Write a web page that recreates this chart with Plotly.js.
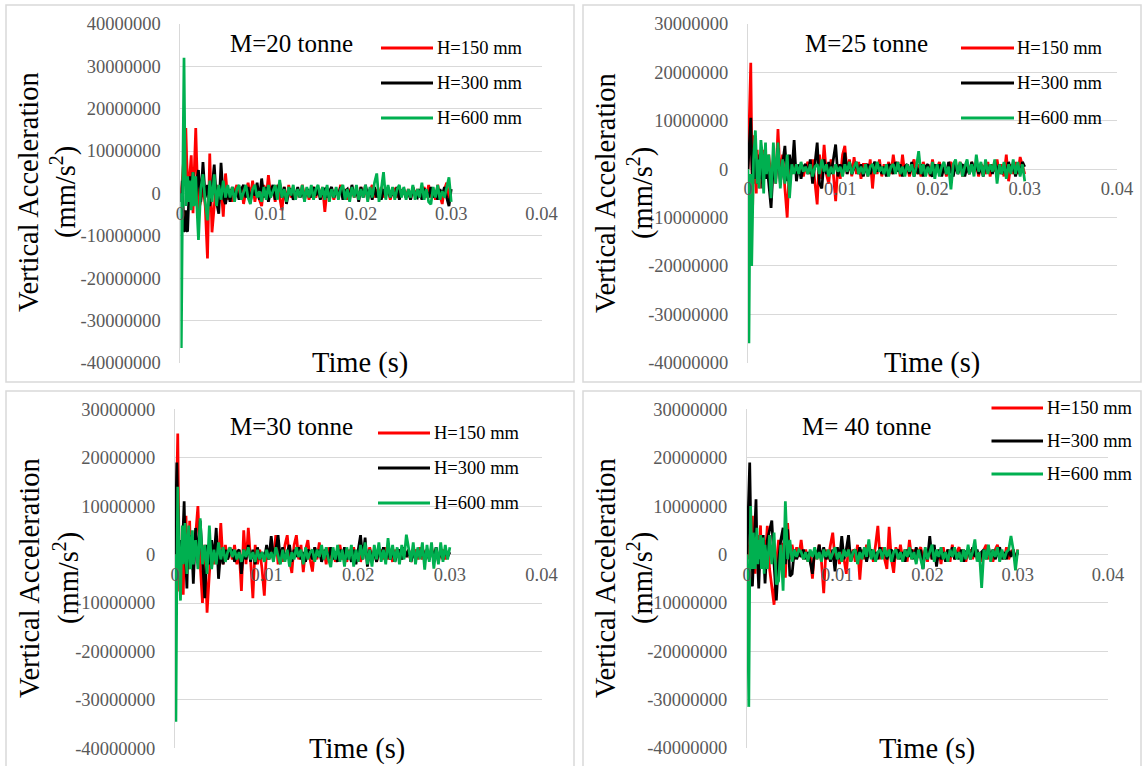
<!DOCTYPE html>
<html>
<head>
<meta charset="utf-8">
<script src="https://cdn.plot.ly/plotly-3.0.1.min.js"></script>
<style>
  html, body { margin: 0; padding: 0; background: #ffffff; }
  #chart { width: 1144px; height: 766px; }
</style>
</head>
<body>
<div id="chart"></div>
<script>
// Sample times (s): 0.1 ms steps over the impact, 0.25 ms steps afterwards
const time = [
  0,0.0001,0.0002,0.0003,0.0004,0.0005,0.0006,0.0007,0.0008,0.0009,0.001,0.0011,0.0012,0.0013,0.0014,0.0015,0.0016,0.0017,0.0018,0.0019,0.002,
  0.00225,0.0025,0.00275,0.003,0.00325,0.0035,0.00375,0.004,0.00425,0.0045,0.00475,0.005,0.00525,0.0055,0.00575,0.006,
  0.00625,0.0065,0.00675,0.007,0.00725,0.0075,0.00775,0.008,0.00825,0.0085,0.00875,0.009,0.00925,0.0095,0.00975,0.01,
  0.01025,0.0105,0.01075,0.011,0.01125,0.0115,0.01175,0.012,0.01225,0.0125,0.01275,0.013,0.01325,0.0135,0.01375,0.014,0.01425,0.0145,0.01475,0.015,
  0.01525,0.0155,0.01575,0.016,0.01625,0.0165,0.01675,0.017,0.01725,0.0175,0.01775,0.018,0.01825,0.0185,0.01875,0.019,0.01925,0.0195,0.01975,0.02,
  0.02025,0.0205,0.02075,0.021,0.02125,0.0215,0.02175,0.022,0.02225,0.0225,0.02275,0.023,0.02325,0.0235,0.02375,0.024,0.02425,0.0245,0.02475,0.025,
  0.02525,0.0255,0.02575,0.026,0.02625,0.0265,0.02675,0.027,0.02725,0.0275,0.02775,0.028,0.02825,0.0285,0.02875,0.029,0.02925,0.0295,0.02975,0.03
];

// Vertical acceleration (mm/s^2), M = 20 tonne
const acc20_h150 = [
  0,1e6,3e6,6e6,10e6,13e6,15.4e6,8e6,3e6,-2e6,3e6,6e6,9e6,2e6,-4.7e6,3e6,10e6,15.4e6,8e6,-1e6,-4e6,
  -2e6,2e6,-3e6,-15.4e6,9.4e6,-9.2e6,-3e6,2e6,-2.5e6,1.5e6,-5.5e6,4.7e6,-1.5e6,1e6,-2e6,0.5e6,
  2e6,-1e6,1.5e6,-2.5e6,0.5e6,2.5e6,-1e6,3e6,-2e6,1e6,-1.5e6,-3e6,2e6,-1e6,4.3e6,-0.5e6,
  1.5e6,-2e6,2e6,-1e6,-4e6,1.5e6,-2e6,2e6,-1e6,0.5e6,-1.5e6,1e6,-1e6,2e6,-0.5e6,1e6,-1.5e6,0.5e6,1.5e6,-1e6,
  1e6,-0.5e6,1.5e6,-4.4e6,1e6,-1e6,0.5e6,-1.5e6,1e6,-0.5e6,2e6,-1e6,1e6,-1.5e6,0.5e6,1.5e6,-1e6,0.5e6,-1e6,1.5e6,
  -0.5e6,1e6,-1.5e6,0.5e6,2e6,-1e6,1e6,-0.5e6,1.5e6,-1e6,0.5e6,1e6,-1.5e6,0.5e6,1e6,-1e6,1.5e6,-0.5e6,0.5e6,-1e6,
  1e6,-1.5e6,1.5e6,-0.5e6,1e6,-1e6,0.5e6,1.5e6,-1e6,2e6,-1e6,0.5e6,-1.5e6,2e6,-0.5e6,-2.5e6,1e6,2.5e6,-1.5e6,-1e6
];
const acc20_h300 = [
  0,-2e6,3e6,-6e6,-8.8e6,-9e6,-4e6,-8.8e6,-9e6,-3e6,2e6,4e6,-1e6,3e6,5e6,-1e6,2e6,-2e6,3e6,4e6,5.5e6,
  -2e6,7.4e6,-1e6,2e6,-3e6,1e6,6.8e6,-2e6,-4.8e6,7.2e6,-1e6,-2.5e6,1e6,-2e6,1.5e6,-1e6,
  0.5e6,-1.5e6,1e6,2e6,-1e6,1.5e6,-2e6,1e6,-0.5e6,2.5e6,-1.5e6,3.5e6,-1e6,1.5e6,-2e6,0.5e6,
  2e6,-1.5e6,1e6,2.5e6,-1e6,1.5e6,-2.5e6,0.5e6,1e6,-1.5e6,-0.5e6,1.5e6,-1e6,0.5e6,-1.5e6,1e6,0.5e6,-1e6,1.5e6,-0.5e6,
  1e6,-1.5e6,0.5e6,1e6,-1e6,0.5e6,1.5e6,-1e6,0.5e6,-0.5e6,1.5e6,-1.5e6,0.5e6,1e6,-1e6,2e6,-0.5e6,1e6,-2e6,1.5e6,
  -1e6,2e6,-0.5e6,1e6,-1.5e6,1.5e6,-1e6,0.5e6,-1.5e6,1e6,-0.5e6,1.5e6,-1e6,0.5e6,-1e6,1.5e6,-1.5e6,0.5e6,1e6,-1e6,
  0.5e6,-1.5e6,1.5e6,-0.5e6,-1e6,1e6,-1.5e6,1e6,0.5e6,-1e6,1.5e6,-1e6,0.5e6,-1.5e6,1e6,-0.5e6,1.5e6,-1e6,-3e6,1e6
];
const acc20_h600 = [
  0,-36.5e6,-10e6,15e6,32e6,10e6,-3e6,2e6,4e6,-2e6,3e6,1e6,-4e6,2e6,5e6,-3e6,1e6,4e6,-2e6,-6e6,-11e6,
  1e6,4.5e6,-2e6,-6.4e6,3e6,-2e6,4.5e6,-3e6,2e6,-1.5e6,3e6,-1e6,2e6,-1e6,1.5e6,-2e6,
  1e6,2e6,-1.5e6,0.5e6,2e6,-1e6,-2.5e6,1e6,2e6,-1e6,0.5e6,-2e6,1.5e6,-1.5e6,2e6,-1e6,
  0.5e6,2e6,-1.5e6,3.2e6,-1e6,1e6,-2e6,1.5e6,-0.5e6,2e6,-1.5e6,1e6,-1e6,2e6,-2e6,1.5e6,-1e6,2e6,-1.5e6,1e6,
  2e6,-1e6,1.5e6,-1.5e6,2e6,-2e6,1e6,-1e6,1.5e6,-1.5e6,1e6,2e6,-1.5e6,1e6,-2e6,1.5e6,-1e6,2e6,-1.5e6,1e6,
  -1e6,2e6,-2e6,1.5e6,-1e6,2.5e6,4.7e6,-2e6,1e6,5e6,-1.5e6,2e6,-1e6,1.5e6,-1.5e6,1e6,2e6,-1e6,1.5e6,-1.5e6,
  1e6,-1e6,2e6,-1.5e6,1e6,-1e6,2.5e6,-1.5e6,1e6,-2e6,-2.6e6,1.5e6,-1e6,2e6,-1.5e6,0.5e6,-1e6,1.5e6,3.8e6,-2e6
];

// M = 25 tonne
const acc25_h150 = [
  0,8e6,16e6,22e6,5e6,-8.4e6,7e6,-3e6,2e6,-5e6,4e6,-2e6,3e6,-4e6,1e6,-3e6,2e6,4e6,-1e6,2e6,-2e6,
  3e6,-2e6,2e6,-3e6,8.3e6,-2e6,3e6,-4e6,-10e6,2e6,-1e6,1.5e6,-1e6,0.5e6,1e6,-1.5e6,
  0.5e6,1.5e6,-1e6,2e6,-2e6,-7.3e6,3e6,-2e6,5e6,-1e6,-3e6,2e6,-1e6,-6.6e6,1e6,-2e6,
  3e6,4.8e6,-1e6,2e6,-1.5e6,2.5e6,-1e6,1.5e6,-2e6,1e6,1e6,-1.5e6,2e6,-4e6,1.5e6,-1e6,2e6,-1.5e6,1e6,-0.5e6,
  1.5e6,-1e6,3e6,-0.5e6,1.5e6,-1.5e6,3e6,-1e6,1e6,-1.5e6,0.5e6,2e6,-1e6,1e6,-1.5e6,1.5e6,-0.5e6,1e6,-1.5e6,2e6,
  -1e6,0.5e6,1.5e6,-1e6,1e6,-1.5e6,0.5e6,1.5e6,-1e6,1e6,-0.5e6,1.5e6,-1.5e6,0.5e6,1e6,-1e6,1.5e6,-0.5e6,1e6,-1.5e6,
  1e6,0.5e6,-1e6,1.5e6,-1.5e6,1e6,-0.5e6,2e6,-1e6,1e6,-1.5e6,3e6,-2.5e6,1e6,-1e6,1.5e6,-1e6,2.5e6,0.5e6,-1e6
];
const acc25_h300 = [
  0,3e6,7e6,10.6e6,2e6,-3e6,4e6,-2e6,3e6,-1e6,2e6,-3e6,1e6,3e6,-2e6,2e6,-4e6,1e6,3e6,-2e6,2e6,
  -3e6,-8e6,1e6,-2e6,4.4e6,-3e6,1e6,4.8e6,-2.5e6,3e6,-1e6,6e6,-2.5e6,1e6,-2e6,0.5e6,
  1e6,-1e6,2e6,-3e6,1e6,5.5e6,-3e6,-4e6,2e6,-1e6,1.5e6,-1e6,2e6,5.1e6,-1.5e6,1e6,
  -1e6,3.4e6,-1e6,1.5e6,-1e6,0.5e6,1.5e6,-1e6,1e6,-1.5e6,0.5e6,1e6,-1e6,0.5e6,1.5e6,-0.5e6,1e6,-1e6,0.5e6,-1.5e6,
  1e6,0.5e6,-1e6,1.5e6,-0.5e6,1e6,-1.5e6,0.5e6,1e6,-1e6,1.5e6,-1.5e6,0.5e6,-1e6,1e6,-1.5e6,0.5e6,1e6,-1e6,-1.5e6,
  1e6,-0.5e6,1e6,-1.5e6,0.5e6,-1e6,1.5e6,-0.5e6,-1.5e6,1e6,-1e6,0.5e6,1e6,-1.5e6,0.5e6,-1e6,1.5e6,-0.5e6,1e6,-1e6,
  0.5e6,-1.5e6,1e6,-0.5e6,1e6,-1e6,1.5e6,-0.5e6,1e6,-1e6,0.5e6,-1e6,1.5e6,-0.5e6,1e6,-1.5e6,0.5e6,-1e6,1.5e6,0.5e6
];
const acc25_h600 = [
  0,-36e6,-10e6,-1e6,-20e6,-5e6,2e6,5e6,8e6,3e6,-3e6,2e6,-4e6,1e6,6e6,4e6,-2e6,-5e6,2e6,5.5e6,-1e6,
  3e6,-6e6,5.5e6,-3e6,5.5e6,-4e6,2e6,-3e6,3e6,-6e6,1e6,-1e6,1e6,-1e6,1.5e6,-0.5e6,
  0.5e6,-1e6,1e6,-1.5e6,0.5e6,1e6,-1e6,2e6,-0.5e6,1e6,-1.5e6,0.5e6,-1e6,1e6,-0.5e6,0.5e6,
  -1.5e6,1e6,-0.5e6,1.5e6,-1e6,0.5e6,1.5e6,-1e6,0.5e6,-1e6,1e6,-1.5e6,0.5e6,1e6,-1e6,1.5e6,-0.5e6,0.5e6,-1e6,1e6,
  -1.5e6,0.5e6,1e6,-1e6,1.5e6,-1e6,0.5e6,-1.5e6,1e6,-0.5e6,1e6,-1.5e6,0.5e6,3.7e6,-1e6,1e6,-1.5e6,0.5e6,-1e6,1.5e6,
  -2e6,1e6,-1.5e6,0.5e6,1.5e6,-1e6,0.5e6,-4.2e6,1e6,2e6,-1e6,1.5e6,-1.5e6,0.5e6,2e6,-1e6,1e6,-1.5e6,3e6,-0.5e6,
  1.5e6,-1.5e6,2e6,-1e6,1e6,-0.5e6,2e6,-3e6,1e6,-1e6,1.5e6,-2e6,1e6,-1e6,2e6,-1e6,1.5e6,-1.5e6,1e6,-2.5e6
];

// M = 30 tonne
const acc30_h150 = [
  0,5e6,15e6,25e6,8e6,-7.6e6,3e6,-2e6,2e6,-8.3e6,0,4e6,8e6,-2e6,3e6,-3e6,7e6,-1e6,2e6,-3e6,1e6,
  4e6,10e6,-2e6,-10e6,2e6,-12e6,-4e6,2e6,-2e6,3e6,-1e6,6.5e6,-2e6,2e6,-1e6,1.5e6,
  -1e6,2e6,-2e6,1e6,-7.5e6,5e6,-2e6,5.5e6,-1e6,-9e6,2e6,-2e6,1e6,-3e6,-8.5e6,1.5e6,
  -1e6,2e6,-1e6,4e6,-2e6,1e6,-1.5e6,2e6,4e6,-1e6,-3.8e6,2e6,4e6,-1e6,2e6,-3.6e6,1e6,3e6,-1e6,-3.5e6,
  1.5e6,-1e6,2.5e6,-1.5e6,1e6,-2e6,1.5e6,-1e6,1e6,-1.5e6,0.5e6,2e6,-1e6,0.5e6,-1.5e6,1e6,-0.5e6,1.5e6,-1e6,1e6,
  -1.5e6,0.5e6,1e6,-1e6,1.5e6,-0.5e6,1e6,-1.5e6,0.5e6,1e6,-1e6,1.5e6,-1e6,0.5e6,-1.5e6,1e6,-0.5e6,1e6,-1e6,1.5e6,
  -0.5e6,1e6,-1.5e6,0.5e6,1e6,-1e6,1.5e6,-1e6,0.5e6,1e6,-1e6,1.5e6,-0.5e6,1e6,-1.5e6,0.5e6,1e6,-1e6,0.5e6,0.5e6
];
const acc30_h300 = [
  0,8e6,19e6,10e6,2e6,-4e6,3e6,-2e6,1e6,5e6,11e6,2e6,-4e6,-7e6,1e6,3e6,-2e6,2e6,4e6,-1e6,-6e6,
  5.5e6,-1e6,7e6,-1e6,-9e6,2e6,-2e6,3e6,-1e6,5.5e6,-5e6,1e6,-2e6,1e6,-1e6,0.5e6,
  1e6,-1.5e6,0.5e6,1e6,-4e6,1e6,-1e6,2e6,-1.5e6,1e6,-2e6,1.5e6,-1e6,0.5e6,-1e6,2e6,
  -1e6,3.8e6,-0.5e6,1e6,4e6,-1e6,1.5e6,-1e6,0.5e6,2e6,-1.5e6,1e6,-0.5e6,1.5e6,-1e6,0.5e6,-1.5e6,1e6,0.5e6,-1e6,
  1.5e6,-0.5e6,1e6,-1.5e6,0.5e6,1e6,-1e6,1.5e6,-1e6,0.5e6,-1.5e6,1e6,-0.5e6,1.5e6,-1e6,0.5e6,-1.5e6,1e6,-2e6,1.5e6,
  4e6,-1e6,3.5e6,-2.5e6,1e6,-1e6,0.5e6,-1.5e6,1e6,-0.5e6,1.5e6,-1e6,0.5e6,-1e6,1e6,-1.5e6,0.5e6,1e6,-1e6,1.5e6,
  -0.5e6,1e6,-1.5e6,0.5e6,-1e6,1e6,-0.5e6,1.5e6,-1e6,0.5e6,-1e6,1e6,-0.5e6,1.5e6,-1e6,0.5e6,-1e6,1e6,-0.5e6,0.5e6
];
const acc30_h600 = [
  0,-34.5e6,-5e6,14e6,3e6,-4e6,-9.5e6,0,6e6,-2e6,5e6,6.5e6,-1e6,-4e6,3e6,6e6,1e6,-3e6,2e6,5e6,-2e6,
  3e6,-3e6,7.5e6,-2e6,2e6,-4e6,6e6,-3e6,1e6,-2e6,2.5e6,-1e6,1.5e6,-1.5e6,0.5e6,1.5e6,
  -0.5e6,1e6,-1e6,0.5e6,-1.5e6,1e6,-0.5e6,1.5e6,-1e6,0.5e6,-1.5e6,1e6,-1e6,0.5e6,-1.5e6,1e6,
  -1e6,0.5e6,-1.5e6,1.5e6,-0.5e6,-2e6,1e6,-1.5e6,1e6,-2.5e6,0.5e6,-1e6,1.5e6,-0.5e6,1e6,-2e6,1.5e6,-1e6,0.5e6,1e6,
  -1.5e6,1e6,-0.5e6,2e6,-1e6,1.5e6,-1e6,-2.6e6,1.5e6,-1e6,2e6,-1.5e6,1e6,-2.5e6,1.5e6,-1e6,2e6,-2.5e6,1e6,-1.5e6,
  2e6,-1e6,2.5e6,-2e6,1e6,-2.5e6,2e6,-1e6,2.5e6,-1.5e6,1e6,-2e6,3.4e6,-1e6,2e6,-1.5e6,1.5e6,-2e6,2e6,-1e6,
  4.1e6,1e6,-1.5e6,2.5e6,-2e6,1.5e6,-1e6,2.5e6,-3.1e6,2e6,-1.5e6,2.5e6,-2.9e6,1.5e6,-2e6,2.5e6,-1.5e6,2e6,-1e6,1.5e6
];

// M = 40 tonne
const acc40_h150 = [
  0,2e6,-1e6,3e6,6e6,-2e6,8e6,-3e6,2e6,-4e6,3e6,-1e6,4e6,-2e6,1e6,6e6,-3e6,2e6,-1e6,3e6,-2e6,
  5.9e6,-3e6,-7e6,-10.4e6,-2e6,3e6,-1e6,2.4e6,-4.8e6,6.5e6,-1e6,2e6,-1e6,1.5e6,-0.5e6,3e6,
  -1e6,1e6,-1.5e6,0.5e6,-5e6,1e6,-1e6,2e6,-1.5e6,-8e6,1e6,-1e6,2e6,4.5e6,-1e6,1.5e6,
  -2e6,1e6,-1e6,-4e6,1.5e6,-1e6,1e6,-1.5e6,2e6,-5.2e6,1e6,-1e6,2e6,-0.5e6,1e6,-1.5e6,2e6,5.9e6,-1e6,1.5e6,
  -1e6,-3e6,5.7e6,-1e6,-3.8e6,1.5e6,-1e6,2e6,-1e6,1e6,-1.5e6,3e6,-1e6,1e6,-1.5e6,0.5e6,1.5e6,-1e6,1e6,-1.5e6,
  2e6,-1e6,0.5e6,-1.5e6,1e6,-2e6,1.5e6,-1e6,1e6,-1.5e6,2e6,-1e6,0.5e6,1.5e6,-1e6,1e6,-1.5e6,0.5e6,1e6,-1e6,
  1.5e6,-1e6,0.5e6,-1.5e6,1e6,2e6,-1e6,0.5e6,-1.5e6,1e6,2e6,-1e6,0.5e6,-1e6,1.5e6,-1e6,0.5e6,1e6,-1.5e6,1e6
];
const acc40_h300 = [
  0,6e6,13e6,19e6,8e6,-3e6,-6.6e6,-2e6,3e6,7e6,11.4e6,2e6,-4e6,-7e6,-2e6,3e6,-1e6,2e6,4e6,-2e6,-6e6,
  3e6,5.2e6,7e6,-2e6,-9.5e6,-1e6,3e6,5.5e6,-2e6,5.2e6,-4.5e6,-4e6,1e6,-1e6,0.5e6,-0.5e6,
  1e6,-1e6,0.5e6,-1.5e6,-4e6,1e6,-0.5e6,2e6,-1e6,1.5e6,-1e6,0.5e6,-1.5e6,1e6,-3.5e6,1.5e6,
  -1e6,3.8e6,-1e6,1e6,4e6,-1.5e6,0.5e6,1e6,-1e6,1.5e6,-0.5e6,1e6,-1.5e6,0.5e6,1e6,-1e6,0.5e6,-1e6,1.5e6,-0.5e6,
  1e6,-1e6,0.5e6,1e6,-1.5e6,0.5e6,1e6,-1e6,0.5e6,-1.5e6,1e6,-0.5e6,1e6,-1e6,1.5e6,-0.5e6,1e6,-3e6,1e6,-1e6,
  3.8e6,-1e6,2e6,-2.5e6,1e6,-1e6,0.5e6,-1.5e6,1e6,-0.5e6,1.5e6,-1e6,0.5e6,-1e6,1e6,-1.5e6,0.5e6,1e6,-1e6,1.5e6,
  -0.5e6,1e6,-1.5e6,0.5e6,1e6,-1e6,1.5e6,-0.5e6,1e6,-1e6,0.5e6,1.5e6,-1e6,0.5e6,-1e6,1e6,-0.5e6,1e6,-1e6,0.5e6
];
const acc40_h600 = [
  0,-20e6,-31.5e6,-5e6,10e6,2e6,-3e6,4.5e6,0,-3e6,2e6,5.5e6,-2e6,3e6,-1e6,4e6,-3e6,1e6,3.5e6,-4e6,2e6,
  -3e6,4e6,-2e6,4.5e6,-6.2e6,-5.5e6,2e6,-7.5e6,11e6,-1e6,3e6,-1.5e6,1e6,-0.5e6,1e6,0.5e6,
  -1e6,0.5e6,-1.5e6,1e6,-0.5e6,1.5e6,-1e6,0.5e6,-1.5e6,1e6,-0.5e6,1e6,-1e6,0.5e6,1.5e6,-1e6,
  0.5e6,-1.5e6,1e6,-0.5e6,1e6,-1.5e6,0.5e6,1e6,-2e6,0.5e6,-1e6,1.5e6,-0.5e6,3.1e6,-1e6,1e6,-1.5e6,0.5e6,1e6,-1e6,
  1.5e6,-0.5e6,1e6,-1.5e6,0.5e6,1e6,-1e6,0.5e6,-1.5e6,1e6,-0.5e6,1.5e6,-1e6,0.5e6,-2e6,1e6,-1e6,-3e6,1.5e6,-1e6,
  0.5e6,2e6,-1.5e6,1e6,-0.5e6,1.5e6,-1e6,0.5e6,-1.5e6,1e6,-0.5e6,1.5e6,-1e6,0.5e6,-1.5e6,1e6,-1e6,2e6,-1e6,0.5e6,
  3.1e6,-1.5e6,0.5e6,-6.9e6,1e6,-1e6,2e6,-1.5e6,1e6,-0.5e6,1.5e6,-1.5e6,1e6,-1e6,0.5e6,1e6,3.8e6,1e6,-3.3e6,1e6
];

// Axis ticks and labels
const xTickVals = [0, 0.01, 0.02, 0.03, 0.04];
const xTickText = ['0', '0.01', '0.02', '0.03', '0.04'];
const yTickValsWide = [-40000000, -30000000, -20000000, -10000000, 0, 10000000, 20000000, 30000000, 40000000];
const yTickTextWide = ['-40000000', '-30000000', '-20000000', '-10000000', '0', '10000000', '20000000', '30000000', '40000000'];
const yTickValsNarrow = [-40000000, -30000000, -20000000, -10000000, 0, 10000000, 20000000, 30000000];
const yTickTextNarrow = ['-40000000', '-30000000', '-20000000', '-10000000', '0', '10000000', '20000000', '30000000'];

const dropHeights = ['H=150 mm', 'H=300 mm', 'H=600 mm'];
const seriesColors = ['#ff0000', '#000000', '#00b050'];
const panelTitles = ['M=20 tonne', 'M=25 tonne', 'M=30 tonne', 'M= 40 tonne'];
const xTitle = 'Time (s)';
const yTitleLines = ['Vertical Acceleration', '(mm/s<sup>2</sup>)'];

// ---- page geometry (pixels) ----
const W = 1144, H = 766;
const FONT = '"Liberation Serif", "Times New Roman", Times, serif';
const fx = px => px / W;
const fy = py => 1 - py / H;

const panels = [
  { title: panelTitles[0], series: [acc20_h150, acc20_h300, acc20_h600],
    yVals: yTickValsWide, yText: yTickTextWide, yRange: [-40000000, 40000000],
    plot: { l: 180.4, r: 541.5, t: 24, b: 362.7 }, frame: { l: 6, t: 5, r: 574, b: 382 },
    titleAt: [291, 43], key: { x0: 381, x1: 433, tx: 435, rows: [48, 83, 118] },
    yTitleX: [29, 64], yTitleY: 192, timeAt: [360, 363] },
  { title: panelTitles[1], series: [acc25_h150, acc25_h300, acc25_h600],
    yVals: yTickValsNarrow, yText: yTickTextNarrow, yRange: [-40000000, 30000000],
    plot: { l: 748, r: 1117, t: 24, b: 362.7 }, frame: { l: 583, t: 5, r: 1141, b: 382 },
    titleAt: [866, 43], key: { x0: 961, x1: 1014, tx: 1015, rows: [48, 83, 118] },
    yTitleX: [605, 640], yTitleY: 193, timeAt: [932, 363] },
  { title: panelTitles[2], series: [acc30_h150, acc30_h300, acc30_h600],
    yVals: yTickValsNarrow, yText: yTickTextNarrow, yRange: [-40000000, 30000000],
    plot: { l: 175, r: 541.5, t: 409.3, b: 748.3 }, frame: { l: 6, t: 391, r: 574, b: 770 },
    titleAt: [291, 427], key: { x0: 378, x1: 430, tx: 432, rows: [433, 468, 503] },
    yTitleX: [29, 66], yTitleY: 578, timeAt: [357, 749] },
  { title: panelTitles[3], series: [acc40_h150, acc40_h300, acc40_h600],
    yVals: yTickValsNarrow, yText: yTickTextNarrow, yRange: [-40000000, 30000000],
    plot: { l: 747, r: 1108, t: 409.3, b: 748 }, frame: { l: 583, t: 391, r: 1141, b: 770 },
    titleAt: [866, 427], key: { x0: 991.5, x1: 1043, tx: 1045, rows: [408, 441, 474] },
    yTitleX: [605, 640], yTitleY: 578, timeAt: [927, 749] }
];

const traces = [];
const shapes = [];
const annotations = [];
const layout = {
  width: W, height: H,
  margin: { l: 0, r: 0, t: 0, b: 0 },
  paper_bgcolor: '#ffffff', plot_bgcolor: 'rgba(0,0,0,0)',
  showlegend: false,
  font: { family: FONT, color: '#000000' },
  shapes: shapes, annotations: annotations
};

const tickFont = { family: FONT, size: 18.5, color: '#595959' };

panels.forEach((p, i) => {
  const n = i === 0 ? '' : String(i + 1);
  const xId = 'x' + n, yId = 'y' + n;
  const yDomain = [fy(p.plot.b), fy(p.plot.t)];
  const zeroFrac = (0 - p.yRange[0]) / (p.yRange[1] - p.yRange[0]);

  layout['xaxis' + n] = {
    domain: [fx(p.plot.l), fx(p.plot.r)],
    range: [0, 0.04],
    anchor: 'free',
    position: yDomain[0] + zeroFrac * (yDomain[1] - yDomain[0]),
    tickmode: 'array', tickvals: xTickVals, ticktext: xTickText,
    ticks: 'outside', ticklen: 3, tickcolor: 'rgba(0,0,0,0)',
    tickfont: tickFont,
    showgrid: false, zeroline: false, showline: false,
    fixedrange: true
  };
  layout['yaxis' + n] = {
    domain: yDomain,
    range: p.yRange,
    anchor: xId,
    tickmode: 'array', tickvals: p.yVals, ticktext: p.yText,
    ticks: 'outside', ticklen: 15, tickcolor: 'rgba(0,0,0,0)',
    tickfont: tickFont,
    showgrid: true, gridcolor: '#d9d9d9', gridwidth: 1,
    zeroline: false,
    showline: true, linecolor: '#d9d9d9', linewidth: 1,
    fixedrange: true
  };

  p.series.forEach((vals, k) => {
    traces.push({
      type: 'scatter', mode: 'lines',
      x: time, y: vals,
      xaxis: xId, yaxis: yId,
      name: dropHeights[k],
      line: { color: seriesColors[k], width: 2.75 },
      hoverinfo: 'skip'
    });
  });

  // panel frame
  shapes.push({
    type: 'rect', xref: 'paper', yref: 'paper', layer: 'below',
    x0: fx(p.frame.l), x1: fx(p.frame.r), y0: fy(p.frame.b), y1: fy(p.frame.t),
    line: { color: '#d9d9d9', width: 1.5 }, fillcolor: 'rgba(0,0,0,0)'
  });

  // in-plot key
  p.key.rows.forEach((ry, k) => {
    shapes.push({
      type: 'line', xref: 'paper', yref: 'paper', layer: 'above',
      x0: fx(p.key.x0), x1: fx(p.key.x1), y0: fy(ry), y1: fy(ry),
      line: { color: seriesColors[k], width: 3 }
    });
    annotations.push({
      xref: 'paper', yref: 'paper', x: fx(p.key.tx), y: fy(ry),
      xanchor: 'left', yanchor: 'middle', showarrow: false,
      text: dropHeights[k], font: { family: FONT, size: 18.5, color: '#000000' }
    });
  });

  // panel title
  annotations.push({
    xref: 'paper', yref: 'paper', x: fx(p.titleAt[0]), y: fy(p.titleAt[1]),
    xanchor: 'center', yanchor: 'middle', showarrow: false,
    text: p.title, font: { family: FONT, size: 25, color: '#000000' }
  });

  // x axis title, sitting at the foot of the plot
  annotations.push({
    xref: 'paper', yref: 'paper', x: fx(p.timeAt[0]), y: fy(p.timeAt[1]),
    xanchor: 'center', yanchor: 'middle', showarrow: false,
    text: xTitle, font: { family: FONT, size: 28.5, color: '#000000' }
  });

  // y axis title, two rotated lines
  yTitleLines.forEach((line, k) => {
    annotations.push({
      xref: 'paper', yref: 'paper', x: fx(p.yTitleX[k]), y: fy(p.yTitleY),
      xanchor: 'center', yanchor: 'middle', showarrow: false, textangle: -90,
      text: line, font: { family: FONT, size: 28.5, color: '#000000' }
    });
  });
});

Plotly.newPlot('chart', traces, layout, { staticPlot: true, displayModeBar: false });
</script>
</body>
</html>
